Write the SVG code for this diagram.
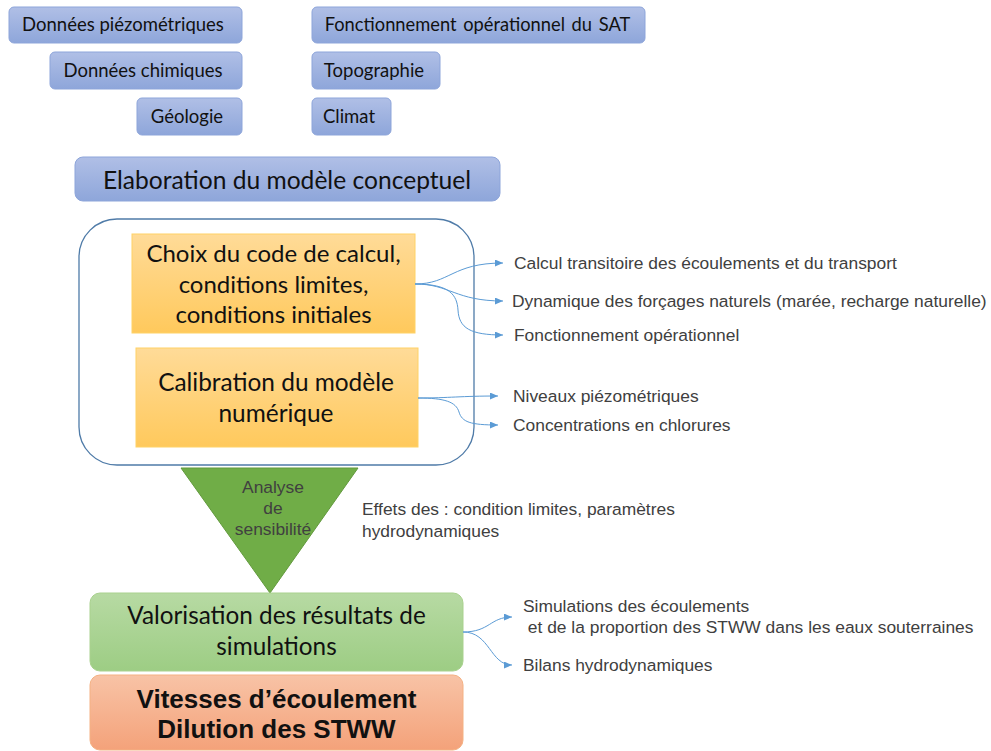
<svg xmlns="http://www.w3.org/2000/svg" width="991" height="751" viewBox="0 0 991 751">
<defs>
<linearGradient id="gBlue" x1="0" y1="0" x2="0" y2="1"><stop offset="0" stop-color="#B0BFE6"/><stop offset="1" stop-color="#8EA6DA"/></linearGradient>
<linearGradient id="gOrange" x1="0" y1="0" x2="0" y2="1"><stop offset="0" stop-color="#FFDB98"/><stop offset="1" stop-color="#FFC95C"/></linearGradient>
<linearGradient id="gGreen" x1="0" y1="0" x2="0" y2="1"><stop offset="0" stop-color="#B7DAA3"/><stop offset="1" stop-color="#9DCD84"/></linearGradient>
<linearGradient id="gRed" x1="0" y1="0" x2="0" y2="1"><stop offset="0" stop-color="#F8C3A6"/><stop offset="1" stop-color="#F4A27A"/></linearGradient>
<marker id="arr" markerUnits="userSpaceOnUse" markerWidth="9" markerHeight="8" refX="8" refY="3.5" orient="auto"><path d="M0,0 L8,3.5 L0,7 z" fill="#5B9BD5"/></marker>
</defs>
<style>
.blue{fill:url(#gBlue);stroke:#8DA5DA;stroke-width:1}
.cal{font-family:Lato,"Open Sans",sans-serif;fill:#111}
.ar{font-family:"Liberation Sans",Arial,sans-serif;fill:#404040;font-size:17.4px}
.conn{fill:none;stroke:#5B9BD5;stroke-width:1;marker-end:url(#arr)}
</style>
<rect width="991" height="751" fill="#fff"/>

<g id="donnees-piezo"><rect class="blue" x="9" y="7" width="233" height="36" rx="5"/><text class="cal" x="123" y="31" font-size="18.5" text-anchor="middle">Données piézométriques</text></g>
<g id="donnees-chim"><rect class="blue" x="50" y="52" width="192" height="37" rx="5"/><text class="cal" x="143" y="77" font-size="18.5" text-anchor="middle">Données chimiques</text></g>
<g id="geologie"><rect class="blue" x="137" y="98" width="105" height="37" rx="5"/><text class="cal" x="187" y="123" font-size="18.5" text-anchor="middle">Géologie</text></g>
<g id="fonct-sat"><rect class="blue" x="312" y="7" width="333" height="36" rx="5"/><text class="cal" x="477.5" y="31" font-size="18.3" text-anchor="middle" word-spacing="2">Fonctionnement opérationnel du SAT</text></g>
<g id="topographie"><rect class="blue" x="312" y="52" width="128" height="37" rx="5"/><text class="cal" x="374" y="77" font-size="18.5" text-anchor="middle">Topographie</text></g>
<g id="climat"><rect class="blue" x="312" y="98" width="79" height="37" rx="5"/><text class="cal" x="349" y="123" font-size="18.5" text-anchor="middle">Climat</text></g>

<g id="elaboration"><rect class="blue" x="75" y="157" width="425" height="44" rx="8"/><text class="cal" x="287" y="189" font-size="24.6" text-anchor="middle">Elaboration du modèle conceptuel</text></g>

<g id="cadre"><rect x="79" y="219" width="395" height="246" rx="38" fill="#fff" stroke="#4F7BA8" stroke-width="1.3"/></g>

<g id="choix"><rect x="132" y="234" width="283" height="99" fill="url(#gOrange)" stroke="#FFD266" stroke-width="1"/>
<text class="cal" font-size="24" text-anchor="middle"><tspan x="273.5" y="262">Choix du code de calcul,</tspan><tspan x="273.5" y="293">conditions limites,</tspan><tspan x="273.5" y="323">conditions initiales</tspan></text></g>

<g id="calibration"><rect x="136" y="348" width="282" height="99" fill="url(#gOrange)" stroke="#FFD266" stroke-width="1"/>
<text class="cal" font-size="24.4" text-anchor="middle"><tspan x="276" y="391">Calibration du modèle</tspan><tspan x="276" y="422">numérique</tspan></text></g>

<g id="analyse"><polygon points="181,468 358,468 270,593" fill="#70AD47" stroke="#62993D" stroke-width="1"/>
<text class="ar" text-anchor="middle"><tspan x="273" y="493">Analyse</tspan><tspan x="273" y="514">de</tspan><tspan x="273" y="535">sensibilité</tspan></text></g>

<g id="valorisation"><rect x="90" y="593" width="373" height="78" rx="10" fill="url(#gGreen)" stroke="#A9D18E" stroke-width="1"/>
<text class="cal" font-size="24.3" text-anchor="middle"><tspan x="276.5" y="624">Valorisation des résultats de</tspan><tspan x="276.5" y="655">simulations</tspan></text></g>

<g id="vitesses"><rect x="90" y="675" width="373" height="75" rx="10" fill="url(#gRed)" stroke="#F4B183" stroke-width="1"/>
<text font-family="'Liberation Sans',Arial,sans-serif" font-weight="bold" font-size="26" fill="#111" text-anchor="middle"><tspan x="276.5" y="708">Vitesses d’écoulement</tspan><tspan x="276.5" y="738">Dilution des STWW</tspan></text></g>

<g id="labels">
<text class="ar" x="514" y="269">Calcul transitoire des écoulements et du transport</text>
<text class="ar" x="512" y="307">Dynamique des forçages naturels (marée, recharge naturelle)</text>
<text class="ar" x="514" y="341">Fonctionnement opérationnel</text>
<text class="ar" x="513" y="402">Niveaux piézométriques</text>
<text class="ar" x="513" y="431">Concentrations en chlorures</text>
<text class="ar"><tspan x="362" y="515">Effets des : condition limites, paramètres</tspan><tspan x="362" y="537">hydrodynamiques</tspan></text>
<text class="ar" x="523" y="612">Simulations des écoulements</text>
<text class="ar" x="523" y="633" xml:space="preserve"> et de la proportion des STWW dans les eaux souterraines</text>
<text class="ar" x="523" y="671">Bilans hydrodynamiques</text>
</g>

<g id="connectors">
<path class="conn" d="M415,284 C450,284 452,263 503,263"/>
<path class="conn" d="M415,284 C450,284 455,301 503,301"/>
<path class="conn" d="M415,284 C450,284 457,295 458,310 C459,328 470,335 503,335"/>
<path class="conn" d="M418,398 C450,398 460,396 498,396"/>
<path class="conn" d="M418,398 C445,398 456,402 459,412 C462,422 470,425 498,425"/>
<path class="conn" d="M463,632 C490,632 490,617 512,617"/>
<path class="conn" d="M463,632 C490,632 490,665 512,665"/>
</g>
</svg>
